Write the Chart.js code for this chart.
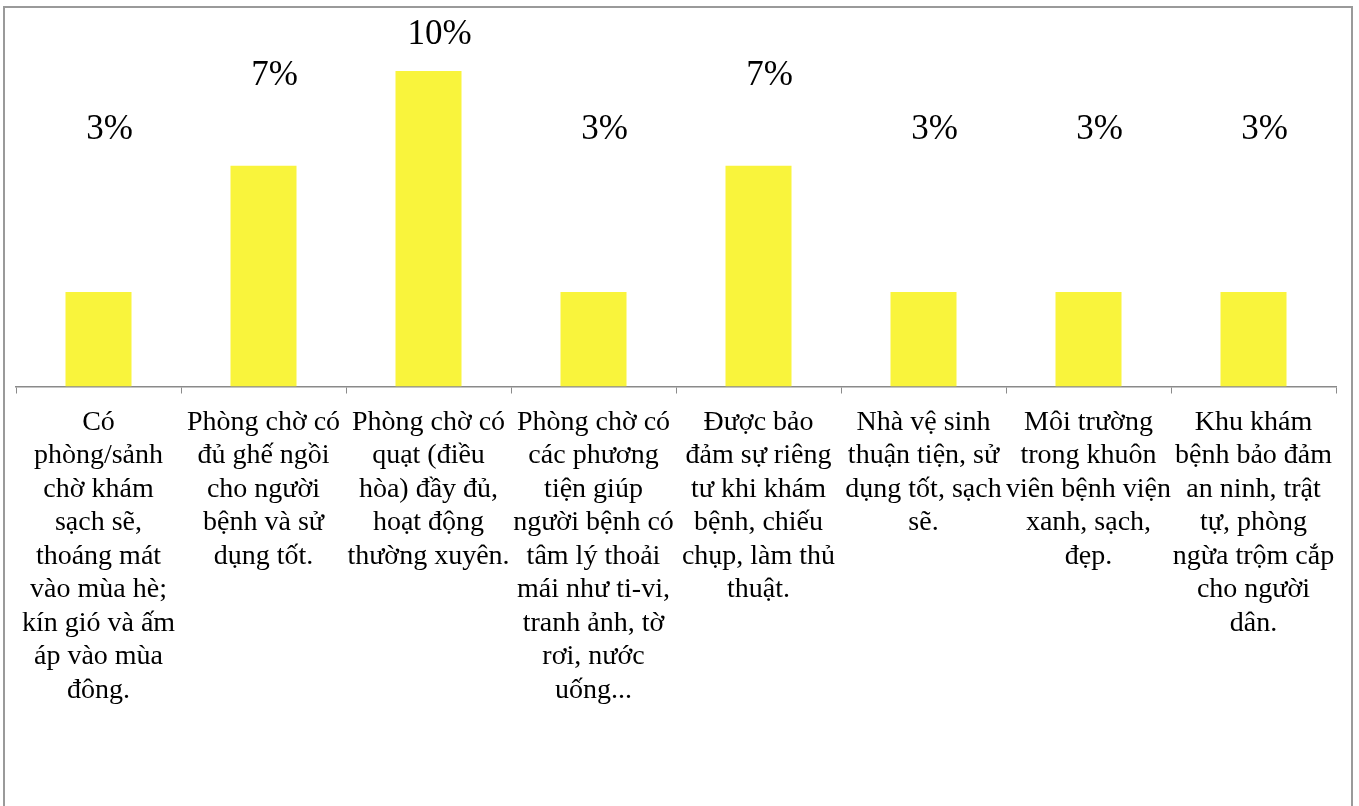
<!DOCTYPE html>
<html>
<head>
<meta charset="utf-8">
<script src="https://cdn.jsdelivr.net/npm/chart.js@4/dist/chart.umd.min.js"></script>
<style>
  html, body { margin: 0; padding: 0; background: #fff; overflow: hidden; }
  #wrap { position: absolute; left: 0; top: 0; width: 1359px; height: 806px; }
  #frame { position: absolute; left: 3px; top: 6px; width: 1346px; height: 900px; border: 2px solid #9a9a9a; }
</style>
</head>
<body>
<div id="wrap">
  <div id="frame"></div>
  <canvas id="myChart" width="1359" height="806"></canvas>
</div>
<script>
const labels = [
  ["Có", "phòng/sảnh", "chờ khám", "sạch sẽ,", "thoáng mát", "vào mùa hè;", "kín gió và ấm", "áp vào mùa", "đông."],
  ["Phòng chờ có", "đủ ghế ngồi", "cho người", "bệnh và sử", "dụng tốt."],
  ["Phòng chờ có", "quạt (điều", "hòa) đầy đủ,", "hoạt động", "thường xuyên."],
  ["Phòng chờ có", "các phương", "tiện giúp", "người bệnh có", "tâm lý thoải", "mái như ti-vi,", "tranh ảnh, tờ", "rơi, nước", "uống..."],
  ["Được bảo", "đảm sự riêng", "tư khi khám", "bệnh, chiếu", "chụp, làm thủ", "thuật."],
  ["Nhà vệ sinh", "thuận tiện, sử", "dụng tốt, sạch", "sẽ."],
  ["Môi trường", "trong khuôn", "viên bệnh viện", "xanh, sạch,", "đẹp."],
  ["Khu khám", "bệnh bảo đảm", "an ninh, trật", "tự, phòng", "ngừa trộm cắp", "cho người", "dân."],
];

const values = [3, 7, 10, 3, 7, 3, 3, 3];

// value labels sit part way between the top of the plot and the bar top
const valueLabels = {
  id: "valueLabels",
  afterDatasetsDraw(chart) {
    const ctx = chart.ctx;
    const top = chart.chartArea.top;
    const meta = chart.getDatasetMeta(0);
    ctx.save();
    ctx.font = "35px 'Liberation Serif'";
    ctx.fillStyle = "#000";
    ctx.textAlign = "center";
    ctx.textBaseline = "middle";
    meta.data.forEach((bar, i) => {
      const y = top + 0.43 * (bar.y - top);
      ctx.fillText(values[i] + "%", bar.x + 11, y);
    });
    ctx.restore();
  },
};

const data = {
  labels: labels,
  datasets: [
    {
      data: values,
      backgroundColor: "#f9f43c",
      borderWidth: 0,
      categoryPercentage: 1,
      barPercentage: 0.4,
    },
  ],
};

const config = {
  type: "bar",
  data: data,
  plugins: [valueLabels],
  options: {
    responsive: false,
    animation: false,
    layout: { padding: { left: 16, right: 23, top: 8, bottom: 87 } },
    plugins: { legend: { display: false }, tooltip: { enabled: false } },
    scales: {
      x: {
        grid: {
          offset: true,
          drawOnChartArea: false,
          drawTicks: true,
          tickLength: 7,
          color: "#8a8a8a",
        },
        border: { color: "#8a8a8a", width: 1.5 },
        ticks: {
          color: "#000",
          padding: 12,
          maxRotation: 0,
          autoSkip: false,
          font: { family: "'Liberation Serif'", size: 28, lineHeight: "33.5px" },
        },
      },
      y: {
        display: false,
        min: 0,
        max: 12,
      },
    },
  },
};

const barChart = new Chart(document.getElementById("myChart"), config);
</script>
</body>
</html>
